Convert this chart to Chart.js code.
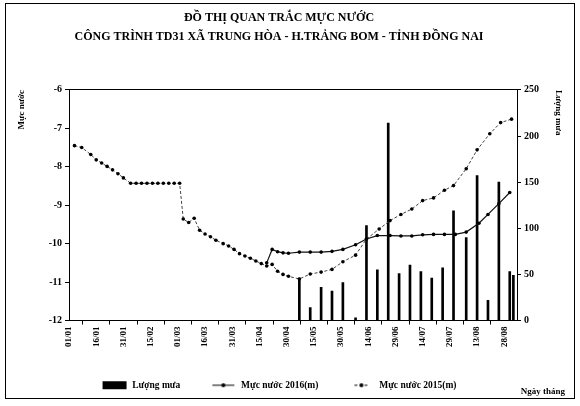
<!DOCTYPE html>
<html>
<head>
<meta charset="utf-8">
<script src="https://cdn.jsdelivr.net/npm/chart.js@4.4.1/dist/chart.umd.min.js"></script>
<style>
  html, body { margin: 0; padding: 0; background: #fff; }
  #wrap { position: relative; width: 580px; height: 406px; }
  #frame { position: absolute; left: 5px; top: 3px; width: 568px; height: 394px; border: 1px solid #000; pointer-events: none; }
</style>
</head>
<body>
<div id="wrap">
  <canvas id="chart" width="580" height="406"></canvas>
  <div id="frame"></div>
</div>
<script>
// ngay tinh tu 01/01 (ngay 0), nam nhuan
var tickLabels = ["01/01", "16/01", "31/01", "15/02", "01/03", "16/03", "31/03", "15/04", "30/04",
  "15/05", "30/05", "14/06", "29/06", "14/07", "29/07", "13/08", "28/08"];

var rainDays = [127, 133, 139, 145, 151, 158, 164, 170, 176, 182, 188, 194, 200, 206, 212, 219, 225, 231, 237, 243, 245];
var rainValues = [46, 14, 36, 32, 41, 3, 103, 55, 214, 51, 60, 53, 46, 57, 119, 90, 157, 22, 150, 53, 49];

var days2016 = [109, 112, 115, 118, 121, 127, 133, 139, 145, 151, 158, 164, 170, 177, 183, 189, 195, 201, 207, 213, 219, 226, 231, 237, 243];
var level2016 = [-10.50, -10.15, -10.21, -10.24, -10.25, -10.22, -10.22, -10.22, -10.20, -10.15, -10.03, -9.88, -9.79,
  -9.79, -9.80, -9.80, -9.77, -9.76, -9.76, -9.76, -9.70, -9.47, -9.24, -8.96, -8.67];

var days2015 = [3, 7, 12, 15, 18, 21, 24, 27, 30, 34, 37, 40, 43, 46, 49, 52, 55, 58, 61, 63, 66, 69, 72, 75, 78, 81,
  85, 88, 91, 94, 97, 100, 103, 106, 109, 112, 115, 118, 121, 127, 133, 139, 145, 151, 158, 164, 171, 177, 183,
  189, 195, 201, 207, 212, 219, 225, 232, 238, 244];
var level2015 = [-7.45, -7.50, -7.68, -7.82, -7.90, -7.99, -8.08, -8.18, -8.29, -8.43, -8.43, -8.43, -8.43, -8.43,
  -8.43, -8.43, -8.43, -8.43, -8.43, -9.36, -9.45, -9.34, -9.65, -9.75, -9.82, -9.91, -10.00, -10.06, -10.15,
  -10.26, -10.32, -10.38, -10.45, -10.52, -10.58, -10.54, -10.72, -10.80, -10.85, -10.92, -10.79, -10.74, -10.67,
  -10.47, -10.30, -9.88, -9.62, -9.40, -9.24, -9.10, -8.88, -8.81, -8.61, -8.49, -8.05, -7.56, -7.14, -6.85, -6.76];

var titleLines = ["ĐỒ THỊ QUAN TRẮC MỰC NƯỚC", "CÔNG TRÌNH TD31 XÃ TRUNG HÒA - H.TRẢNG BOM - TỈNH ĐỒNG NAI"];
var xTitle = "Ngày tháng";

var serif = "'Liberation Serif', 'Times New Roman', serif";
Chart.defaults.font.family = serif;
Chart.defaults.color = "#000";

function points(xs, ys) {
  return xs.map(function (x, i) {
    return { x: x, y: ys[i] };
  });
}

// icon nho cho chu thich (theo thu tu dataset)
function legendIcon(kind) {
  var c = document.createElement("canvas");
  c.width = 26;
  c.height = 10;
  var g = c.getContext("2d");
  g.fillStyle = "#000";
  g.strokeStyle = "#000";
  if (kind === "bar") {
    g.fillRect(1, 1, 24, 8);
    return c;
  }
  if (kind === "dash") g.setLineDash([3, 2]);
  g.lineWidth = 1;
  g.beginPath();
  g.moveTo(kind === "dash" ? 6 : 2, 5);
  g.lineTo(kind === "dash" ? 20 : 24, 5);
  g.stroke();
  g.beginPath();
  g.arc(13, 5, 2, 0, Math.PI * 2);
  g.fill();
  return c;
}
var icons = [legendIcon("bar"), legendIcon("line"), legendIcon("dash")];

var dateAxisTitle = {
  id: "dateAxisTitle",
  afterDraw: function (chart) {
    var ctx = chart.ctx;
    ctx.save();
    ctx.font = "bold 9px " + serif;
    ctx.fillStyle = "#000";
    ctx.textAlign = "right";
    ctx.textBaseline = "middle";
    ctx.fillText(xTitle, chart.width - 15, chart.height - 14);
    ctx.restore();
  }
};

var tickFont = { size: 10, weight: "bold" };

new Chart(document.getElementById("chart"), {
  data: {
    datasets: [
      {
        type: "bar",
        label: "Lượng mưa",
        data: points(rainDays, rainValues),
        yAxisID: "y1",
        backgroundColor: "#000",
        barThickness: 2,
        order: 2
      },
      {
        type: "line",
        label: "Mực nước 2016(m)",
        data: points(days2016, level2016),
        yAxisID: "y",
        borderColor: "#111",
        borderWidth: 1.2,
        pointRadius: 1.8,
        pointBackgroundColor: "#000",
        pointBorderWidth: 0,
        order: 1
      },
      {
        type: "line",
        label: "Mực nước 2015(m)",
        data: points(days2015, level2015),
        yAxisID: "y",
        borderColor: "#444",
        borderWidth: 1,
        borderDash: [3, 2],
        pointRadius: 1.8,
        pointBackgroundColor: "#000",
        pointBorderWidth: 0,
        order: 1
      }
    ]
  },
  options: {
    responsive: false,
    animation: false,
    layout: { padding: { left: 8, right: 30, top: 0, bottom: 6 } },
    plugins: {
      title: {
        display: true,
        text: titleLines,
        color: "#000",
        font: { size: 12, weight: "bold", lineHeight: 1.58 },
        padding: { top: 8.5, bottom: 43.5 }
      },
      legend: {
        position: "bottom",
        labels: {
          usePointStyle: true,
          pointStyleWidth: 26,
          padding: 30,
          color: "#000",
          font: { size: 9.5, weight: "bold" },
          sort: function (a, b) {
            return a.datasetIndex - b.datasetIndex;
          },
          generateLabels: function (chart) {
            var items = Chart.defaults.plugins.legend.labels.generateLabels(chart);
            items.forEach(function (it) {
              it.pointStyle = icons[it.datasetIndex];
            });
            return items;
          }
        }
      },
      tooltip: { enabled: false }
    },
    scales: {
      x: {
        type: "linear",
        position: "bottom",
        min: 0,
        max: 247,
        offset: false,
        afterFit: function (s) { s.height = 30; },
        border: { display: true, color: "#000" },
        grid: { display: true, drawOnChartArea: false, color: "#000", tickLength: 4 },
        ticks: {
          stepSize: 15,
          includeBounds: false,
          autoSkip: false,
          minRotation: 90,
          maxRotation: 90,
          padding: 2,
          font: { size: 9, weight: "bold" },
          callback: function (v) {
            return v % 15 === 0 ? tickLabels[v / 15] : "";
          }
        }
      },
      xTop: {
        type: "linear",
        position: "top",
        min: 0,
        max: 247,
        afterFit: function (s) { s.height = 0; },
        border: { display: true, color: "#000" },
        grid: { display: false },
        ticks: { display: false }
      },
      y: {
        type: "linear",
        position: "left",
        min: -12,
        max: -6,
        afterFit: function (s) { s.width = 61; },
        border: { display: true, color: "#000" },
        grid: { display: true, drawOnChartArea: false, color: "#000", tickLength: 4 },
        ticks: { stepSize: 1, padding: 3, font: tickFont },
        title: {
          display: true,
          text: "Mực nước",
          align: "end",
          font: { size: 9, weight: "bold" },
          padding: { top: 8.6, bottom: 0 }
        }
      },
      y1: {
        type: "linear",
        position: "right",
        min: 0,
        max: 250,
        afterFit: function (s) { s.width = 33; },
        border: { display: true, color: "#000" },
        grid: { display: true, drawOnChartArea: false, color: "#000", tickLength: 4 },
        ticks: { stepSize: 50, padding: 3, font: tickFont },
        title: {
          display: true,
          text: "Lượng mưa",
          align: "end",
          font: { size: 9, weight: "bold" },
          padding: { top: -13.4, bottom: 0 }
        }
      }
    }
  },
  plugins: [dateAxisTitle]
});
</script>
</body>
</html>
